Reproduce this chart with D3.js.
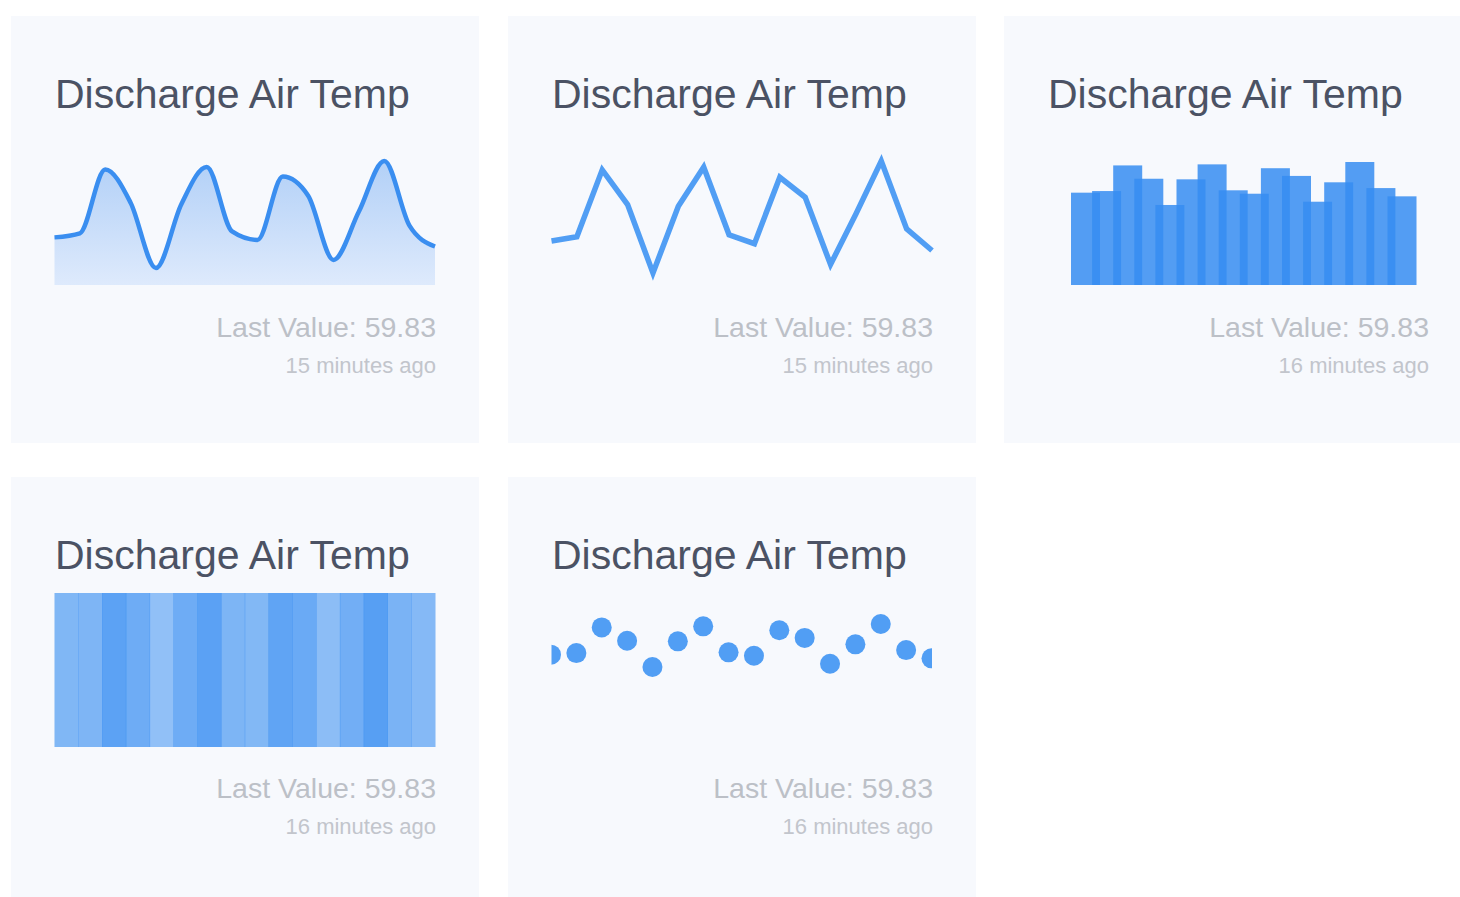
<!DOCTYPE html>
<html>
<head>
<meta charset="utf-8">
<script src="https://cdn.jsdelivr.net/npm/d3@7"></script>
<style>
body { margin: 0; background: #fff; }
svg { display: block; }
</style>
</head>
<body>
<script>
var values = [62.3, 63.4, 80.7, 71.7, 54.0, 71.3, 81.4, 63.9, 61.6, 78.8, 73.6, 56.2, 69.3, 83.0, 65.4, 59.83];
var titles = ["Discharge Air Temp", "Discharge Air Temp", "Discharge Air Temp", "Discharge Air Temp", "Discharge Air Temp"];
var kinds = ["area", "line", "bar", "heat", "dots"];
var ages = ["15 minutes ago", "15 minutes ago", "16 minutes ago", "16 minutes ago", "16 minutes ago"];
var lastValue = values[values.length - 1];

var W = 1460, H = 897;
var cardW = 468, cardH = 427;
var pad = 43.5, chartW = 380.5;
var chartTop = 116, chartBottom = 270;
var font = "'Helvetica Neue', Helvetica, 'Liberation Sans', Arial, sans-serif";
var blue = "#368df1";

var svg = d3.select("body").append("svg")
	.attr("width", W)
	.attr("height", H);

var defs = svg.append("defs");
var grad = defs.append("linearGradient")
	.attr("id", "areaFill")
	.attr("x1", 0).attr("y1", 0).attr("x2", 0).attr("y2", 1);
grad.append("stop").attr("offset", "0%").attr("stop-color", "#b2d0f7");
grad.append("stop").attr("offset", "100%").attr("stop-color", "#deeafc");

var cardX = d3.scaleOrdinal().domain([0, 1, 2]).range([11, 508, 1004]);
var cardY = d3.scaleOrdinal().domain([0, 1]).range([16, 477]);

var idx = d3.range(values.length);
var ext = d3.extent(values);
var x = d3.scaleLinear().domain([0, values.length - 1]).range([0, chartW]);

var cards = svg.selectAll(".card").data(kinds).enter()
	.append("g")
	.attr("class", "card")
	.attr("transform", (d, i) => "translate(" + cardX(i % 3) + "," + cardY(Math.floor(i / 3)) + ")");

cards.append("rect")
	.attr("width", cardW)
	.attr("height", cardH)
	.attr("fill", "#f7f9fd");

cards.append("text")
	.attr("x", 44)
	.attr("y", 92)
	.text((d, i) => titles[i])
	.attr("font-family", font)
	.attr("font-size", "41px")
	.attr("fill", "#4b5264");

cards.append("text")
	.attr("x", 425)
	.attr("y", 321)
	.attr("text-anchor", "end")
	.text("Last Value: " + lastValue)
	.attr("font-family", font)
	.attr("font-size", "28.5px")
	.attr("fill", "#bcc0c7");

cards.append("text")
	.attr("x", 425)
	.attr("y", 357)
	.attr("text-anchor", "end")
	.text((d, i) => ages[i])
	.attr("font-family", font)
	.attr("font-size", "22px")
	.attr("fill", "#c2c5cc");

var charts = cards.append("g")
	.attr("transform", "translate(" + pad + ",0)");

// area
var area0 = charts.filter(d => d == "area");
var yA = d3.scaleLinear().domain(ext).range([252, 145]);
area0.append("path")
	.datum(idx)
	.attr("d", d3.area().x(i => x(i)).y0(chartBottom - 1).y1(i => yA(values[i])).curve(d3.curveMonotoneX))
	.attr("fill", "url(#areaFill)");
area0.append("path")
	.datum(idx)
	.attr("d", d3.line().x(i => x(i)).y(i => yA(values[i])).curve(d3.curveMonotoneX))
	.attr("fill", "none")
	.attr("stroke", "#3a8ef0")
	.attr("stroke-width", 4.5);

// line
var line0 = charts.filter(d => d == "line");
var yL = d3.scaleLinear().domain(ext).range([257, 145]);
line0.append("path")
	.datum(idx)
	.attr("d", d3.line().x(i => x(i)).y(i => yL(values[i])))
	.attr("fill", "none")
	.attr("stroke", "#519ef4")
	.attr("stroke-width", 5.5);

// bars
var bar0 = charts.filter(d => d == "bar");
var xB = d3.scaleBand().domain(idx).range([23.5, 23.5 + 16 * 21.1]);
var yB = d3.scaleLinear().domain([0, ext[1]]).range([chartBottom - 1, 146]);
bar0.selectAll("rect").data(idx).enter()
	.append("rect")
	.attr("x", i => xB(i))
	.attr("y", i => yB(values[i]))
	.attr("width", 29)
	.attr("height", i => yB(0) - yB(values[i]))
	.attr("fill", blue)
	.attr("fill-opacity", 0.85);

// heat strips
var heat0 = charts.filter(d => d == "heat");
var xH = d3.scaleBand().domain(idx).range([0, chartW]);
var op = d3.scaleLinear().domain(ext).range([0.53, 0.83]);
heat0.selectAll("rect").data(idx).enter()
	.append("rect")
	.attr("x", i => xH(i))
	.attr("y", chartTop)
	.attr("width", xH.bandwidth() + 0.5)
	.attr("height", chartBottom - chartTop)
	.attr("fill", blue)
	.attr("fill-opacity", i => op(values[i]));

// dots
var dot0 = charts.filter(d => d == "dots");
defs.append("clipPath").attr("id", "dotClip")
	.append("rect")
	.attr("x", 0).attr("y", chartTop)
	.attr("width", chartW).attr("height", chartBottom - chartTop);
var yD = d3.scaleLinear().domain(ext).range([190, 147]);
dot0.append("g")
	.attr("clip-path", "url(#dotClip)")
	.selectAll("circle").data(idx).enter()
	.append("circle")
	.attr("cx", i => x(i) - 0.5)
	.attr("cy", i => yD(values[i]))
	.attr("r", 10)
	.attr("fill", "#519ef4");
</script>
</body>
</html>
